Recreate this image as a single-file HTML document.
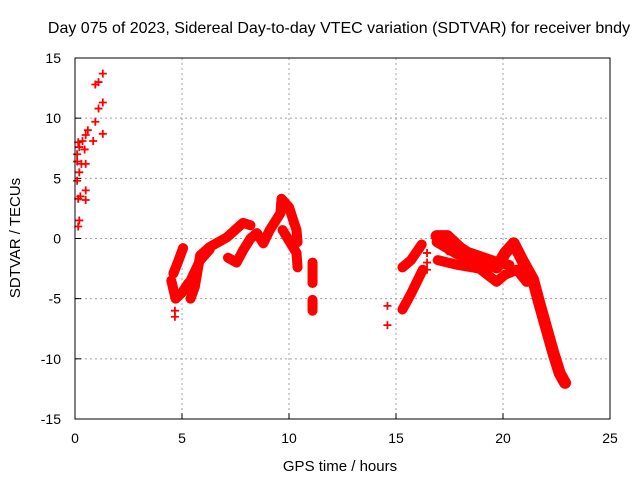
<!DOCTYPE html>
<html><head><meta charset="utf-8"><style>
body{margin:0;background:#fff;}
svg{display:block;font-family:"Liberation Sans",sans-serif;}
</style></head><body>
<svg id="chart" width="640" height="480">
<text x="339" y="33" text-anchor="middle" font-size="16">Day 075 of 2023, Sidereal Day-to-day VTEC variation (SDTVAR) for receiver bndy</text>
<text x="340" y="471" text-anchor="middle" font-size="15">GPS time / hours</text>
<text transform="translate(20,238) rotate(-90)" text-anchor="middle" font-size="15">SDTVAR / TECUs</text>
<g id="grid"></g><g id="ticks"></g><g id="marks"></g>
<rect x="75" y="58" width="535" height="361" fill="none" stroke="#000" stroke-width="1"/>
</svg>
<script>
const xTicks=[0,5,10,15,20,25];
const yTicks=[-15,-10,-5,0,5,10,15];
const scatterPts=[[0.15,1.0],[0.2,1.5],[0.15,3.3],[0.25,3.5],[0.5,3.2],[0.5,4.0],[0.1,4.8],[0.2,5.5],[0.1,6.4],[0.3,6.2],[0.5,6.2],[0.2,7.6],[0.35,8.1],[0.5,8.6],[0.6,9.0],[0.15,8.0],[0.45,7.4],[0.85,8.1],[0.95,9.7],[1.1,10.8],[1.3,11.3],[1.3,8.7],[1.1,13.0],[1.3,13.7],[0.95,12.8],[0.1,7.0],[4.67,-6.5],[4.67,-6.0],[14.6,-5.6],[14.6,-7.2],[16.45,-1.2],[16.45,-2.0],[16.45,-2.6]];
const trackA=[[4.6,-2.9],[4.8,-2.0],[5.05,-0.8]];
const trackA2=[[4.5,-3.5],[4.7,-5.0],[5.0,-4.5],[5.3,-3.7]];
const trackB=[[5.4,-5.0],[5.6,-4.0],[5.85,-1.4],[6.3,-0.7],[7.1,0.1],[7.85,1.3],[8.2,1.1]];
const trackB2=[[5.4,-3.5],[5.85,-1.8],[6.3,-0.9]];
const trackC=[[7.15,-1.6],[7.55,-2.0],[7.85,-1.0],[8.2,0.0],[8.5,0.45],[8.8,-0.4],[9.1,0.7],[9.6,2.1],[9.65,3.3],[10.0,2.6],[10.35,0.7],[10.4,-0.3]];
const trackC2=[[9.7,0.7],[10.35,-1.2],[10.4,-2.4]];
const trackG1=[[11.1,-2.0],[11.1,-3.7]];
const trackG2=[[11.1,-5.1],[11.1,-6.0]];
const trackD=[[15.3,-2.4],[15.7,-1.8],[16.2,-0.5]];
const trackE=[[15.3,-5.9],[15.7,-4.6],[16.25,-2.6]];
const trackF=[[16.9,0.2],[17.4,0.2],[18.0,-0.8],[18.6,-1.5],[19.2,-2.0],[19.7,-2.4],[20.1,-1.2],[20.5,-0.4],[20.9,-1.8],[21.4,-3.4],[21.7,-5.4],[22.05,-7.6],[22.35,-9.5],[22.65,-11.2],[22.9,-12.0]];
const trackF2=[[16.95,-1.8],[17.9,-2.2],[18.9,-2.5],[19.7,-3.6],[20.1,-3.0],[20.65,-2.6],[21.1,-3.6]];
const trackF3=[[16.9,-0.3],[17.85,-1.3],[18.5,-1.8],[19.5,-2.2]];
const trackF4=[[17.5,-1.0],[18.5,-1.2],[19.8,-2.0],[20.3,-2.2]];
const tracks=[trackA,trackA2,trackB,trackB2,trackC,trackC2,trackG1,trackG2,trackD,trackE,trackF,trackF2,trackF3,trackF4];
const X=h=>75+h*21.4, Y=v=>238.5-v*12.033;
const NS='http://www.w3.org/2000/svg';
function mk(t,a,p){const e=document.createElementNS(NS,t);for(const k in a)e.setAttribute(k,a[k]);p.appendChild(e);return e;}
const grid=document.getElementById('grid'),ticks=document.getElementById('ticks'),marks=document.getElementById('marks');
xTicks.forEach(t=>{const x=X(t);
 if(t>0&&t<25){const l=mk('line',{x1:x,x2:x,y1:58,y2:419,stroke:'#a0a0a0','stroke-dasharray':'2,3'},grid);
 
 }
 mk('line',{x1:x,x2:x,y1:419,y2:413,stroke:'#000'},ticks);
 const tx=mk('text',{x:x,y:443,'text-anchor':'middle','font-size':14},ticks);tx.textContent=t;
 
 });
yTicks.forEach(t=>{const y=Y(t);
 if(t>-15&&t<15){const l=mk('line',{x1:75,x2:610,y1:y,y2:y,stroke:'#a0a0a0','stroke-dasharray':'2,3'},grid);
 
 }
 mk('line',{x1:75,x2:81,y1:y,y2:y,stroke:'#000'},ticks);
 const tx=mk('text',{x:61,y:y+5,'text-anchor':'end','font-size':14},ticks);tx.textContent=t;
 
 });
function plus(h,v){const x=X(h),y=Y(v);
 const p=mk('path',{d:`M${x-4},${y}H${x+4}M${x},${y-4}V${y+4}`,stroke:'#f00','stroke-width':1.8,fill:'none'},marks);
 
 }
tracks.forEach((tr,i)=>{
 const pl=mk('polyline',{points:tr.map(p=>X(p[0])+','+Y(p[1])).join(' '),stroke:'#f00','stroke-width':(tr===trackF?12:10),fill:'none','stroke-linejoin':'round','stroke-linecap':'round'},marks);
 
 
 tr.forEach(p=>plus(p[0],p[1]));});
scatterPts.forEach(p=>plus(p[0],p[1]));
</script>
</body></html>
